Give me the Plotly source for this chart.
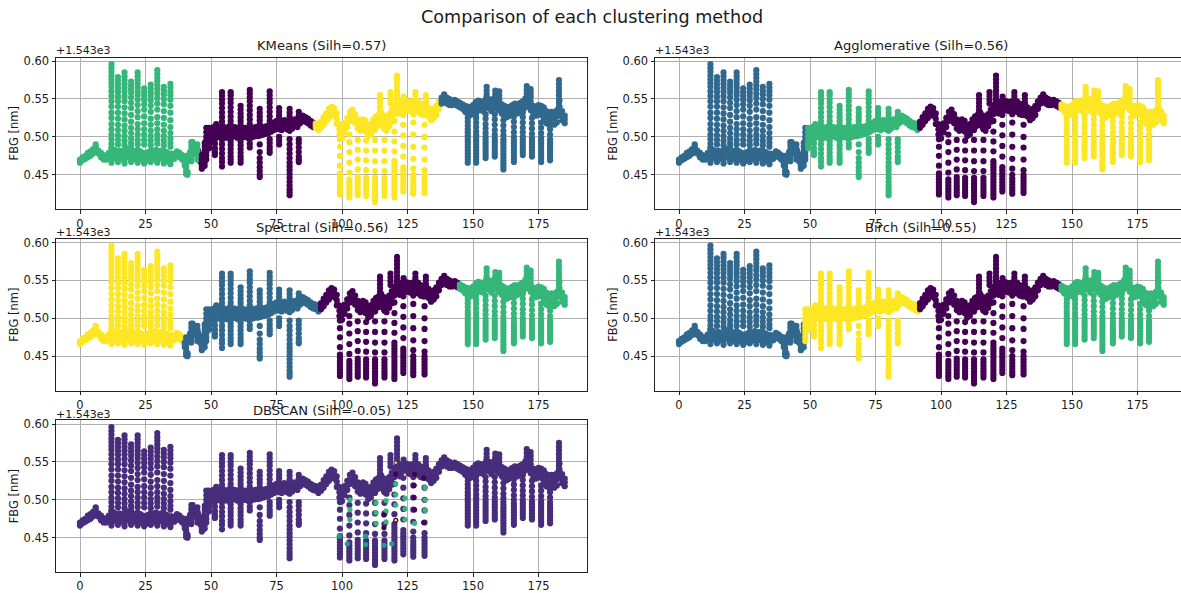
import plotly.graph_objects as go

# All FBG readings are offsets from 1543 nm, in thousandths of a nm.
FIG_TITLE = "Comparison of each clustering method"
Y_LABEL = "FBG [nm]"
OFFSET_LABEL = "+1.543e3"
X_TICKS = [0, 25, 50, 75, 100, 125, 150, 175]
Y_TICKS = [450, 500, 550, 600]
Y_TICK_TEXT = ["0.45", "0.50", "0.55", "0.60"]

# Main band: centre reading for t = 0..185
BASE_MID = [468,471,473,476,478,481,487,480,476,473,472,476,480,478,476,477,476,477,479,478,
            477,476,478,476,474,473,475,477,476,478,476,477,477,475,473,475,474,478,476,473,
            465,452,478,490,482,478,472,466,482,495,503,508,512,506,506,507,505,508,506,507,
            505,507,506,506,505,507,506,507,507,508,508,509,510,512,514,516,515,514,517,515,
            513,516,519,517,522,525,523,521,518,516,515,513,516,521,526,531,535,533,524,510,
            505,512,519,527,530,524,517,514,517,514,508,510,516,520,522,524,520,516,522,528,
            536,540,538,540,542,541,540,541,543,540,537,535,538,533,528,531,535,542,548,552,
            548,546,545,546,544,542,540,537,535,534,536,540,542,541,540,545,544,540,545,544,
            541,537,535,532,534,536,538,537,539,541,545,547,541,535,534,536,535,532,526,524,
            525,524,527,540,528,523]
BAND_HALF = [2,2,2,3,3,3,3,2,3,3,2,3,5,5,5,5,5,5,5,5,5,5,5,5,5,5,5,5,5,5,5,5,5,5,5,3,3,3,3,3,
             3,2,2,3,3,4,5,5,8,7,6,5,5,6,6,6,6,6,6,6,6,6,6,6,6,6,6,6,6,6,5,5,5,5,5,5,5,5,5,5,
             5,5,4,4,4,3,3,3,3,3,3,4,4,5,5,6,5,5,7,7,7,6,6,6,6,6,6,6,6,7,7,7,7,7,7,8,8,8,8,8,
             6,7,7,7,6,6,6,6,6,7,7,6,6,6,6,6,6,5,4,4,4,4,3,3,3,3,3,4,5,5,6,6,6,6,6,6,6,6,6,6,
             6,6,6,6,6,6,6,6,6,6,6,6,6,6,6,6,6,7,8,8,8,8,8,8,6,5]

# Vertical runs of readings: time, then readings
COLUMN_TIMES = [12,14.5,17,19.5,22,24.5,27,29.5,32,34.5,
                40.5,42.5,44.8,46.5,47.6,48.2,49.3,51.5,54.2,57.5,61.3,64.8,68.6,72.4,76,80,83.5,
                54.2,57.5,61.3,64.8,68.6,72.4,76,80,83.5,
                99.2,102.8,106,109.2,112.6,116.2,120,123.4,127.2,131.5,
                114.5,118.5,121,123.5,128,132,
                148,151.2,154.8,158.3,161.6,165.6,169,172.5,176,179.4,
                155.2,158.5,160,170.5,172,182.8]
COLUMN_READINGS = [
 [596,591,586,581,576,571,566,560,554,547,540,532,525,517,510,503,497,491,486,470,466],
 [579,574,569,564,559,553,547,540,532,524,516,509,502,496,490,470,467],
 [585,580,575,570,565,560,554,547,539,531,523,515,508,501,495,489,469,465],
 [573,568,563,558,552,545,538,529,520,512,505,498,492,487,470,467],
 [585,580,575,570,565,560,555,549,542,534,526,517,510,503,496,490,470,466],
 [564,559,554,549,543,536,527,518,510,503,496,490,468,465],
 [569,564,559,554,548,541,533,524,516,508,501,495,489,470,467],
 [588,583,578,573,568,563,557,551,544,536,526,518,510,503,497,491,470,466],
 [566,561,556,550,543,534,525,516,508,501,495,489,469,465],
 [570,565,560,555,549,541,532,522,513,505,498,492,487,467,464],
 [475,470,465,460,455,451],
 [493,488,483,478,473,468],
 [490,485,480,475,470],
 [476,471,466,461,458],
 [492,487,482,477,472,467,462],
 [512,506,500,495,490,485,480,475,470],
 [512,506,500,495,490,485],
 [497,491,485,480,476],
 [496,490,484,478,472,467,461],
 [494,489,484,479,474,470,466],
 [494,489,484,479,474,470,466],
 [497,491,486],
 [490,480,472,466,460,455,450,447],
 [497,492,487,483,479],
 [500,495,490],
 [497,490,484,478,472,466,461,456,451,446,441,436,431,427,423],
 [497,492,486,480,474,470,467],
 [559,554,549,544,538,532,526,520,515],
 [559,555,550,545,539,533,527,521,516],
 [541,536,531,526,521,516],
 [562,557,552,547,541,535,529,523,517],
 [537,532,527,522,517],
 [560,555,550,545,539,533,527,521,516],
 [538,533,528,523,518],
 [537,532,527,522],
 [533,528],
 [424,428,432,436,440,444,448,452,462,475,487,497],
 [420,424,428,432,436,440,444,453,466,480,493,503],
 [423,427,431,435,439,443,447,457,470,483,496],
 [422,426,430,434,438,442,446,456,469,482,495],
 [414,418,422,426,430,434,438,442,446,455,468,482,496,509],
 [422,426,430,434,438,442,446,455,468,482,496,510],
 [420,424,428,432,436,440,444,448,452,456,460,464,468,481,494,507,521,534],
 [428,432,436,440,444,448,452,456,460,474,488,502,516,529],
 [425,429,433,437,441,445,450,458,471,487,503,519,530],
 [426,430,434,438,442,446,450,456,470,486,500,516,529],
 [555,550,545,540,535,530],
 [559,554,549,544],
 [581,576,571,566,561,556,551,546],
 [553,548],
 [559,554,549],
 [555,550,545],
 [466,470,474,478,482,486,490,494,498,502,506,510,515,520,525,530],
 [466,470,474,478,482,486,490,494,498,502,507,513,519,525,531],
 [472,476,480,484,488,492,496,500,505,511,517,524,530],
 [474,478,482,486,490,494,498,503,509,516,523,530],
 [457,461,465,469,473,477,481,485,489,493,497,502,508,515,522,529],
 [467,471,475,479,483,487,491,495,500,506,513,520,527],
 [476,480,484,488,492,496,500,506,512,519,526,532],
 [474,478,482,486,490,494,498,504,511,518,525],
 [467,471,475,479,483,487,491,495,499,505,512,519],
 [469,473,477,481,485,489,493,497,503,510,517],
 [566,561,556,551],
 [561,556,551],
 [560,555,550,545],
 [567,562,557,552],
 [563,558,553],
 [575,570,565,560,555,550,545,540,535,530],
]

# Cluster boundaries in time and the colour of each segment, per panel
VIRIDIS_0 = "#440154"
VIRIDIS_1 = "#31688e"
VIRIDIS_2 = "#35b779"
VIRIDIS_3 = "#fde725"
DBSCAN_MAIN = "#472d7b"

PANEL_TITLES = ["KMeans (Silh=0.57)", "Agglomerative (Silh=0.56)", "Spectral (Silh=0.56)",
                "Birch (Silh=0.55)", "DBSCAN (Silh=-0.05)"]
PANEL_BREAKS = [[45, 90, 138], [49, 92, 146], [40, 92, 145], [48, 92, 146], []]
PANEL_COLORS = [[VIRIDIS_2, VIRIDIS_0, VIRIDIS_3, VIRIDIS_1],
                [VIRIDIS_1, VIRIDIS_2, VIRIDIS_0, VIRIDIS_3],
                [VIRIDIS_3, VIRIDIS_1, VIRIDIS_0, VIRIDIS_2],
                [VIRIDIS_1, VIRIDIS_3, VIRIDIS_0, VIRIDIS_2],
                [DBSCAN_MAIN]]

# DBSCAN's stray small clusters
STRAY_TIMES = [103,103,103,113,113,113,116.8,116.8,116.8,120.5,120.5,120.5,124,124,124,127.7,131.7,131.7,131.7,
               120.5,120.5,127.7,131.2,127.5,127.5,127.7,131.2,116,116,
               99,102,109,109,116,119]
STRAY_READINGS = [500,487,474,496,483,469,499,485,471,521,507,493,502,488,474,469,516,500,486,
                  534,473,534,529,519,503,487,470,480,463,
                  452,442,452,441,440,442]
STRAY_COLORS = [VIRIDIS_2]*19 + [VIRIDIS_0]*10 + ["#1f9e89"]*6
TINY_TIMES = [120.5, 124, 120.5]
TINY_READINGS = [549, 533, 473]

# Panel frames in pixels (left, right, top, bottom)
FIG_W, FIG_H = 1190, 593
FRAMES = [(56, 587, 55, 208), (655, 1186, 55, 208),
          (56, 587, 238, 391), (655, 1186, 238, 391),
          (56, 587, 421, 574)]
TITLE_Y = [43, 43, 226, 226, 411]
OFFSET_Y = [48, 48, 231, 231, 415]
X_RANGE = [-9.16, 193.5]
Y_RANGE = [404.5, 604.7]

times, readings = [], []
for t, (mid, half) in enumerate(zip(BASE_MID, BAND_HALF)):
    times += [t, t, t]
    readings += [mid + half, mid - half, mid]
for t, col in zip(COLUMN_TIMES, COLUMN_READINGS):
    times += [t] * len(col)
    readings += col


def colour_for(t, breaks, colours):
    i = sum(t >= b for b in breaks)
    return colours[i]


TEXT = "#1a1a1a"
fig = go.Figure()
annotations = [dict(text=FIG_TITLE, x=592 / FIG_W, y=1 - 14 / FIG_H, xref="paper", yref="paper",
                    showarrow=False, xanchor="center", yanchor="middle",
                    font=dict(size=17.6, color=TEXT))]
layout = {}
for i, (frame, title, breaks, colours) in enumerate(zip(FRAMES, PANEL_TITLES, PANEL_BREAKS, PANEL_COLORS)):
    left, right, top, bottom = frame
    xa, ya = f"x{i + 1}", f"y{i + 1}"
    fig.add_trace(go.Scatter(
        x=times, y=[1543 + r / 1000 for r in readings], mode="markers", xaxis=xa, yaxis=ya,
        showlegend=False, hoverinfo="skip",
        marker=dict(size=6.2, line=dict(width=0),
                    color=[colour_for(t, breaks, colours) for t in times])))
    common = dict(showline=True, linecolor="#222222", linewidth=1, mirror=True, ticks="outside",
                  ticklen=3.5, tickwidth=1, tickcolor="#222222", showgrid=True, gridcolor="#b0b0b0",
                  gridwidth=1, zeroline=False, tickfont=dict(size=11.5, color=TEXT))
    layout[f"xaxis{i + 1}"] = dict(domain=[left / FIG_W, right / FIG_W], range=X_RANGE, anchor=ya,
                                   tickvals=X_TICKS, ticktext=[str(v) for v in X_TICKS], **common)
    layout[f"yaxis{i + 1}"] = dict(domain=[1 - bottom / FIG_H, 1 - top / FIG_H],
                                   range=[1543 + v / 1000 for v in Y_RANGE], anchor=xa,
                                   tickvals=[1543 + v / 1000 for v in Y_TICKS], ticktext=Y_TICK_TEXT, **common)
    annotations.append(dict(text=title, x=(left + right) / 2 / FIG_W, y=1 - TITLE_Y[i] / FIG_H,
                            xref="paper", yref="paper", showarrow=False, xanchor="center",
                            yanchor="middle", font=dict(size=13.1, color=TEXT)))
    annotations.append(dict(text=OFFSET_LABEL, x=(left - 2) / FIG_W, y=1 - OFFSET_Y[i] / FIG_H,
                            xref="paper", yref="paper", showarrow=False, xanchor="left",
                            yanchor="middle", font=dict(size=11, color=TEXT)))
    annotations.append(dict(text=Y_LABEL, x=(left - 42) / FIG_W, y=1 - (top + bottom) / 2 / FIG_H,
                            xref="paper", yref="paper", showarrow=False, xanchor="center",
                            yanchor="middle", textangle=-90, font=dict(size=11.5, color=TEXT)))

fig.add_trace(go.Scatter(x=STRAY_TIMES, y=[1543 + r / 1000 for r in STRAY_READINGS], mode="markers",
                         xaxis="x5", yaxis="y5", showlegend=False, hoverinfo="skip",
                         marker=dict(size=5.2, line=dict(width=0), color=STRAY_COLORS)))
fig.add_trace(go.Scatter(x=TINY_TIMES, y=[1543 + r / 1000 for r in TINY_READINGS], mode="markers",
                         xaxis="x5", yaxis="y5", showlegend=False, hoverinfo="skip",
                         marker=dict(size=2.5, line=dict(width=0), color=VIRIDIS_3)))

fig.update_layout(width=FIG_W, height=FIG_H, autosize=False, margin=dict(l=0, r=0, t=0, b=0),
                  paper_bgcolor="white", plot_bgcolor="white",
                  font=dict(family="DejaVu Sans", color=TEXT), annotations=annotations, **layout)
fig.write_html("out.html", config={"displayModeBar": False},
               post_script="document.body.style.margin='0';document.body.style.overflow='hidden';")
